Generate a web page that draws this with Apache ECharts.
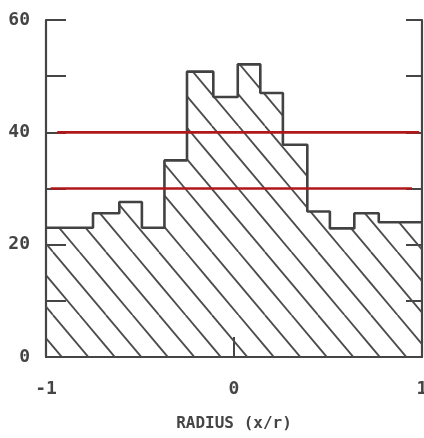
<!DOCTYPE html>
<html>
<head>
<meta charset="utf-8">
<script src="https://cdn.jsdelivr.net/npm/echarts@6/dist/echarts.min.js"></script>
<style>
  html, body { margin: 0; padding: 0; background: #fff; }
  #chart { width: 424px; height: 438px; }
</style>
</head>
<body>
<div id="chart"></div>
<script>
// Histogram bins: left edge of each bin (x/r) and the count in that bin
const binEdges = [-1, -0.75, -0.61, -0.49, -0.37, -0.25, -0.11, 0.02, 0.14, 0.26, 0.39, 0.51, 0.64, 0.77];
const binEnd = 1;
const counts = [23, 25.6, 27.6, 23, 35, 50.8, 46.3, 52.1, 47, 37.8, 25.9, 22.9, 25.6, 24];

// Horizontal reference levels and their x extent
const refLevels = [40, 30];
const refFrom = [-0.94, -0.975];
const refTo = [0.985, 0.947];

// Axis ranges and tick labels
const xTickLabels = [-1, 0, 1];
const yMax = 60;
const yLabelStep = 20;

const INK = '#454545';
const FONT = "'DejaVu Sans Mono', monospace";

// Diagonal hatch tile (two lines per tile, wraps seamlessly)
function makeHatch() {
  const w = 53, h = 63;
  const c = document.createElement('canvas');
  c.width = w; c.height = h;
  const g = c.getContext('2d');
  g.strokeStyle = '#4c4c4c';
  g.lineWidth = 1.8;
  for (let k = -3; k <= 3; k++) {
    const x0 = k * 26.5;
    g.beginPath();
    g.moveTo(x0, 0);
    g.lineTo(x0 + w, h);
    g.stroke();
  }
  return c;
}

const stepData = binEdges.map((x, i) => [x, counts[i]]);
stepData.push([binEnd, counts[counts.length - 1]]);

const refSeries = refLevels.map((lv, i) => ({
  type: 'line',
  data: [[refFrom[i], lv], [refTo[i], lv]],
  symbol: 'none',
  lineStyle: { color: '#b0171b', width: 2.6 },
  z: 5,
  silent: true
}));

const chart = echarts.init(document.getElementById('chart'), null, { renderer: 'canvas' });
chart.setOption({
  animation: false,
  backgroundColor: '#fff',
  grid: { left: 46, right: 2, top: 20, bottom: 81, outerBoundsMode: 'none', containLabel: false },
  xAxis: {
    type: 'value',
    min: xTickLabels[0],
    max: xTickLabels[xTickLabels.length - 1],
    interval: 1,
    name: 'RADIUS (x/r)',
    nameLocation: 'middle',
    nameGap: 59,
    nameTextStyle: { color: INK, fontFamily: FONT, fontSize: 16, fontWeight: 'bold' },
    axisLine: { show: true, onZero: false, lineStyle: { color: INK, width: 2.2 } },
    axisTick: { show: true, inside: true, length: 20, lineStyle: { color: INK, width: 2 } },
    axisLabel: { color: INK, fontFamily: FONT, fontSize: 18, fontWeight: 'bold', margin: 23, showMaxLabel: true },
    splitLine: { show: false }
  },
  yAxis: [
    {
      type: 'value',
      min: 0, max: yMax, interval: 10,
      position: 'left',
      axisLine: { show: true, onZero: false, lineStyle: { color: INK, width: 2.2 } },
      axisTick: { show: true, inside: true, length: 20, lineStyle: { color: INK, width: 2 } },
      axisLabel: {
        color: INK, fontFamily: FONT, fontSize: 18, fontWeight: 'bold', margin: 16,
        formatter: v => (v % yLabelStep === 0 ? String(v) : '')
      },
      splitLine: { show: false }
    },
    {
      type: 'value',
      min: 0, max: yMax, interval: 10,
      position: 'right',
      axisLine: { show: true, onZero: false, lineStyle: { color: INK, width: 2.2 } },
      axisTick: { show: true, inside: true, length: 16, lineStyle: { color: INK, width: 2 } },
      axisLabel: { show: false },
      splitLine: { show: false }
    }
  ],
  series: [
    {
      type: 'line',
      data: stepData,
      step: 'end',
      symbol: 'none',
      lineStyle: { color: '#424242', width: 2.6 },
      areaStyle: { color: { image: makeHatch(), repeat: 'repeat' }, opacity: 1 },
      z: 3,
      silent: true
    }
  ].concat(refSeries)
});
</script>
</body>
</html>
